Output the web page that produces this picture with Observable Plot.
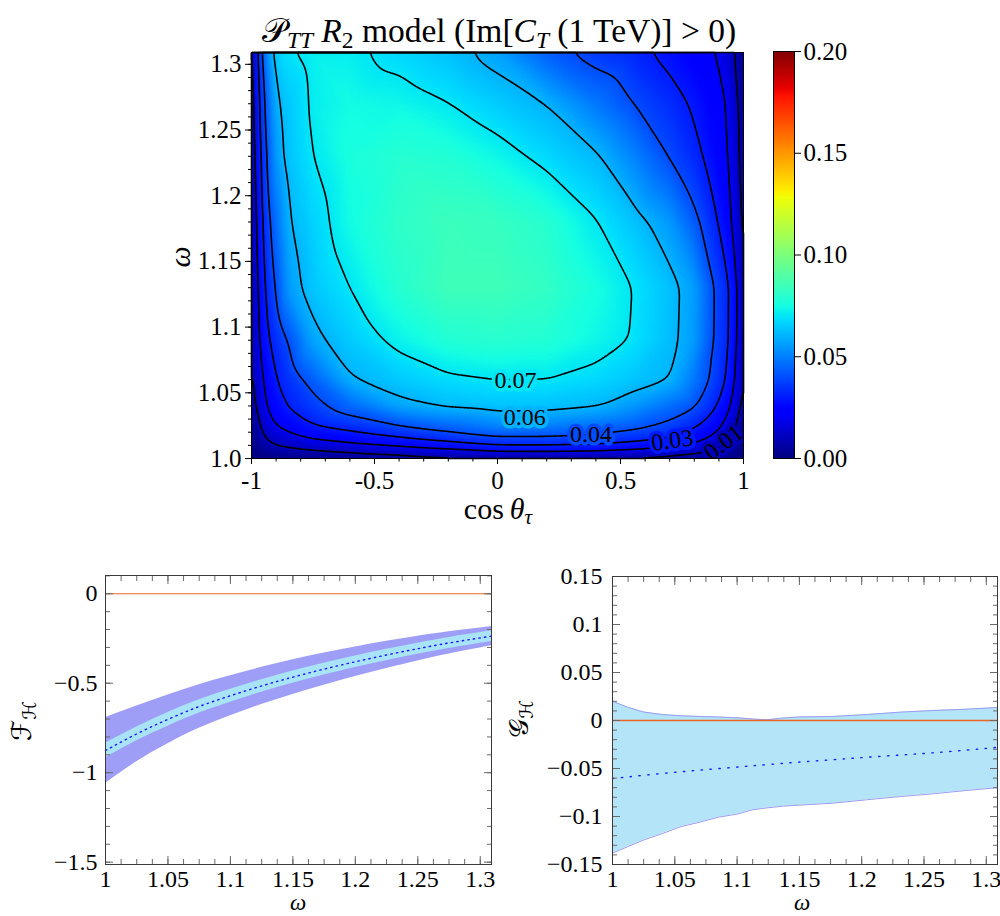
<!DOCTYPE html>
<html>
<head>
<meta charset="utf-8">
<script src="https://cdn.jsdelivr.net/npm/d3@7"></script>
<script src="https://cdn.jsdelivr.net/npm/@observablehq/plot@0.6"></script>
<style>
  html, body { margin: 0; padding: 0; background: #fff; }
  #root { position: relative; width: 1000px; height: 916px; overflow: hidden; font-family: "Liberation Serif", serif; color: #000; }
  #root svg { position: absolute; }
  .lbl { position: absolute; transform: translate(-50%, -50%); white-space: nowrap; font-family: "Liberation Serif", serif; line-height: 0.8; }
  .rot { transform: translate(-50%, -50%) rotate(-90deg); }
  .lbl sub { font-size: 70%; vertical-align: -0.28em; line-height: 0; }
  .scr { font-family: "DejaVu Serif", "DejaVu Sans", serif; font-style: normal; }
</style>
</head>
<body>
<div id="root">
  <div class="lbl" style="left:499px; top:31px; font-size:33.5px;"><span class="scr">𝒫</span><sub><i>TT</i></sub> <i>R</i><sub>2</sub> model (Im[<i>C</i><sub><i>T</i></sub> (1 TeV)] &gt; 0)</div>
  <div class="lbl" style="left:498px; top:509px; font-size:30px; line-height:0.5;">cos&#8201;<i>θ</i><sub><i>τ</i></sub></div>
  <div class="lbl rot" style="left:180px; top:257px; font-size:30px;"><i>ω</i></div>
  <div class="lbl" style="left:298px; top:903px; font-size:23px; line-height:normal;"><i>ω</i></div>
  <div class="lbl" style="left:802px; top:903px; font-size:23px; line-height:normal;"><i>ω</i></div>
  <div class="lbl rot" style="left:22px; top:721px; font-size:27px;"><span class="scr">ℱ</span><sub><span class="scr">ℋ</span></sub></div>
  <div class="lbl rot" style="left:519px; top:719px; font-size:27px;"><span class="scr">𝒢</span><sub><span class="scr">ℋ</span></sub></div>
</div>
<script>
// ---------------- Heat map data (cos theta_tau x omega grid) ----------------
const heatC = [-1, -0.99, -0.97, -0.94, -0.9, -0.85, -0.75, -0.6, -0.4, -0.2, 0, 0.2, 0.4, 0.55, 0.7, 0.8, 0.88, 0.94, 0.98, 1];
const heatW = [1.0, 1.003, 1.008, 1.015, 1.025, 1.04, 1.06, 1.09, 1.13, 1.18, 1.23, 1.27, 1.309];
const heatV_1000 = [0, 0, 0, 0, 0, 0, 0, 0, 0, 0, 0, 0, 0, 0, 0, 0, 0, 0, 0, 0];
const heatV_1003 = [0, 0.0003, 0.001, 0.002, 0.003, 0.0041, 0.0058, 0.0079, 0.0096, 0.0118, 0.0142, 0.0145, 0.0138, 0.0125, 0.011, 0.0103, 0.008, 0.0045, 0.0015, 0];
const heatV_1008 = [0, 0.0011, 0.0034, 0.0066, 0.0096, 0.0108, 0.0125, 0.015, 0.0185, 0.0231, 0.0286, 0.0288, 0.0275, 0.0245, 0.02, 0.0155, 0.0115, 0.0071, 0.0024, 0];
const heatV_1015 = [0, 0.0023, 0.007, 0.0109, 0.013, 0.0156, 0.0204, 0.0242, 0.0292, 0.0334, 0.0376, 0.0378, 0.0364, 0.0335, 0.03, 0.0238, 0.0179, 0.0116, 0.0044, 0];
const heatV_1025 = [0, 0.0031, 0.0094, 0.015, 0.0207, 0.0238, 0.03, 0.0341, 0.0397, 0.0455, 0.0514, 0.0505, 0.0468, 0.0432, 0.0376, 0.0318, 0.0244, 0.0164, 0.008, 0];
const heatV_1040 = [0, 0.0067, 0.0138, 0.0207, 0.0255, 0.0308, 0.0369, 0.0453, 0.0575, 0.062, 0.0635, 0.0632, 0.0612, 0.055, 0.0467, 0.0411, 0.032, 0.0225, 0.0124, 0];
const heatV_1060 = [0, 0.01, 0.0167, 0.0234, 0.0302, 0.0345, 0.0435, 0.0595, 0.0645, 0.0685, 0.0701, 0.07, 0.0675, 0.064, 0.0605, 0.0486, 0.0373, 0.0288, 0.0172, 0];
const heatV_1090 = [0, 0.012, 0.0217, 0.0283, 0.034, 0.04, 0.0575, 0.0648, 0.0725, 0.078, 0.0795, 0.078, 0.0735, 0.0695, 0.0624, 0.0555, 0.0391, 0.0313, 0.0214, 0];
const heatV_1130 = [0, 0.0129, 0.0237, 0.0324, 0.0397, 0.0555, 0.064, 0.07, 0.079, 0.085, 0.085, 0.082, 0.0755, 0.07, 0.0628, 0.056, 0.0395, 0.0314, 0.0221, 0];
const heatV_1180 = [0, 0.0145, 0.0264, 0.0356, 0.0466, 0.0602, 0.0664, 0.0745, 0.081, 0.084, 0.083, 0.079, 0.0705, 0.0636, 0.055, 0.043, 0.0321, 0.0237, 0.0145, 0];
const heatV_1230 = [0, 0.0167, 0.029, 0.0385, 0.056, 0.0635, 0.0701, 0.076, 0.079, 0.078, 0.0735, 0.0675, 0.0613, 0.0512, 0.0393, 0.0327, 0.0264, 0.0211, 0.0115, 0];
const heatV_1270 = [0, 0.0186, 0.0308, 0.0428, 0.0602, 0.0642, 0.0715, 0.0745, 0.0735, 0.0702, 0.0651, 0.06, 0.0486, 0.04, 0.0335, 0.0288, 0.0238, 0.02, 0.01, 0];
const heatV_1309 = [0, 0.0205, 0.0334, 0.052, 0.066, 0.0695, 0.072, 0.0715, 0.0674, 0.063, 0.0565, 0.0435, 0.036, 0.0324, 0.0275, 0.0238, 0.0208, 0.0146, 0.0077, 0];
const heatRows = [heatV_1000, heatV_1003, heatV_1008, heatV_1015, heatV_1025, heatV_1040, heatV_1060, heatV_1090, heatV_1130, heatV_1180, heatV_1230, heatV_1270, heatV_1309];

const contourLevels = [0.01, 0.02, 0.03, 0.04, 0.06, 0.07];
const contourLabelText = ["0.07", "0.06", "0.04", "0.03", "0.01"];
const contourLabelValue = [0.07, 0.06, 0.04, 0.03, 0.01];
const contourLabelC = [0.073, 0.111, 0.38, 0.71, 0.919];
const contourLabelW = [1.0592, 1.0314, 1.0182, 1.0137, 1.0122];
const contourLabelAngle = [0, 0, 0, -8, -38];

const heatXTicks = [-1, -0.5, 0, 0.5, 1];
const heatXTickLabels = ["-1", "-0.5", "0", "0.5", "1"];
const heatYTicks = [1.0, 1.05, 1.1, 1.15, 1.2, 1.25, 1.3];
const heatYTickLabels = ["1.0", "1.05", "1.1", "1.15", "1.2", "1.25", "1.3"];
const cbarTicks = [0, 0.05, 0.1, 0.15, 0.2];
const cbarTickLabels = ["0.00", "0.05", "0.10", "0.15", "0.20"];

// ---------------- F_H band data ----------------
const fOmega   = [1.0, 1.025, 1.05, 1.075, 1.1, 1.125, 1.15, 1.175, 1.2, 1.225, 1.25, 1.275, 1.309];
const fCentral = [-0.876, -0.783, -0.702, -0.630, -0.570, -0.515, -0.466, -0.421, -0.380, -0.342, -0.307, -0.275, -0.237];
const fDarkHi  = [-0.692, -0.627, -0.566, -0.508, -0.458, -0.411, -0.369, -0.331, -0.297, -0.266, -0.238, -0.213, -0.183];
const fDarkLo  = [-1.060, -0.939, -0.838, -0.752, -0.682, -0.619, -0.563, -0.511, -0.463, -0.418, -0.376, -0.337, -0.291];
const fLightHi = [-0.835, -0.744, -0.664, -0.593, -0.534, -0.480, -0.432, -0.388, -0.348, -0.310, -0.276, -0.244, -0.207];
const fLightLo = [-0.917, -0.822, -0.740, -0.667, -0.606, -0.550, -0.500, -0.454, -0.412, -0.374, -0.338, -0.306, -0.267];

// ---------------- G_H band data ----------------
const gOmega = [1.0, 1.012, 1.025, 1.04, 1.055, 1.07, 1.085, 1.1, 1.112, 1.124, 1.137, 1.15, 1.177, 1.204, 1.231, 1.257, 1.284, 1.309];
const gUpper = [0.0201, 0.0139, 0.0088, 0.0062, 0.0049, 0.0042, 0.0036, 0.0028, 0.0016, 0.0007, 0.0026, 0.0037, 0.0042, 0.0062, 0.0087, 0.0104, 0.0118, 0.0135];
const gLower = [-0.1382, -0.1315, -0.1245, -0.1178, -0.1105, -0.1059, -0.1007, -0.0975, -0.0931, -0.0910, -0.0892, -0.0882, -0.0861, -0.0826, -0.0792, -0.0764, -0.0729, -0.0700];
const gCentral = [-0.0604, -0.0588, -0.0571, -0.0552, -0.0534, -0.0517, -0.0501, -0.0485, -0.0472, -0.0460, -0.0446, -0.0433, -0.0408, -0.0383, -0.0360, -0.0337, -0.0308, -0.0280];

const wTicks = [1, 1.05, 1.1, 1.15, 1.2, 1.25, 1.3];
const wTickLabels = ["1", "1.05", "1.1", "1.15", "1.2", "1.25", "1.3"];
const fTicks = [0, -0.5, -1, -1.5];
const fTickLabels = ["0", "\u22120.5", "\u22121", "\u22121.5"];
const gTicks = [0.15, 0.1, 0.05, 0, -0.05, -0.1, -0.15];
const gTickLabels = ["0.15", "0.1", "0.05", "0", "\u22120.05", "\u22120.1", "\u22120.15"];

// ---------------- colour map (jet) ----------------
const jetStops = [0, 0.11, 0.125, 0.34, 0.35, 0.375, 0.64, 0.65, 0.66, 0.89, 0.91, 1];
const jetColors = ["#000080", "#0000ff", "#0000ff", "#00dbff", "#00e6f7", "#15ffe2", "#eeff08", "#f7f600", "#ffec00", "#ff1300", "#e80000", "#800000"];
const colorScale = {type: "linear", domain: jetStops.map(t => t * 0.2), range: jetColors, interpolate: "rgb", clamp: true};

// ---------------- build tables ----------------
const heatPts = heatW.flatMap((w, j) => heatC.map((c, i) => ({c, w, v: heatRows[j][i]})));
const contourLabels = contourLabelText.map((t, i) => ({t, lv: contourLabelValue[i], c: contourLabelC[i], w: contourLabelW[i], a: contourLabelAngle[i]}));
const fPts = fOmega.map((w, i) => ({w, mid: fCentral[i], dHi: fDarkHi[i], dLo: fDarkLo[i], lHi: fLightHi[i], lLo: fLightLo[i]}));
const gPts = gOmega.map((w, i) => ({w, mid: gCentral[i], hi: gUpper[i], lo: gLower[i]}));

const lab = (ticks, labels) => { const m = new Map(ticks.map((t, i) => [t, labels[i]])); return d => m.get(d); };
const range = (a, b, s) => d3.range(Math.round((b - a) / s) + 1).map(i => +(a + i * s).toFixed(6));

const topStyle = {fontFamily: "Liberation Serif, serif", fontSize: "25px", background: "transparent", overflow: "visible", color: "black"};
const lowStyle = {fontFamily: "Liberation Serif, serif", fontSize: "24px", background: "transparent", overflow: "visible", color: "black"};

// ---------------- heat map ----------------
const heat = Plot.plot({
  width: 760, height: 520,
  marginLeft: 251, marginRight: 17, marginTop: 52, marginBottom: 62,
  x: {domain: [-1, 1], axis: null},
  y: {domain: [1, 1.309], axis: null},
  color: colorScale,
  style: topStyle,
  marks: [
    Plot.raster(heatPts, {x: "c", y: "w", fill: "v", interpolate: "barycentric", x1: -1, x2: 1, y1: 1, y2: 1.309, pixelSize: 1, blur: 3}),
    Plot.contour(heatPts, {x: "c", y: "w", value: "v", interpolate: "barycentric", thresholds: contourLevels, x1: -1, x2: 1, y1: 1, y2: 1.309, pixelSize: 1, blur: 6, stroke: "black", strokeWidth: 1.6, fill: "none"}),
    Plot.text(contourLabels, {x: "c", y: "w", text: "t", rotate: "a", fill: "black", stroke: "lv", strokeWidth: 7, paintOrder: "stroke", fontSize: 24, clip: true}),
    Plot.frame({stroke: "black", strokeWidth: 1}),
    Plot.axisX(range(-1, 1, 0.1), {anchor: "bottom", tickSize: 3.5, fill: "none", label: null}),
    Plot.axisX(heatXTicks, {anchor: "bottom", tickSize: 6, tickPadding: 7, tickFormat: lab(heatXTicks, heatXTickLabels), label: null}),
    Plot.axisY(range(1, 1.3, 0.01), {anchor: "left", tickSize: 3, fill: "none", label: null}),
    Plot.axisY(heatYTicks, {anchor: "left", tickSize: 6, tickPadding: 4, tickFormat: lab(heatYTicks, heatYTickLabels), label: null})
  ]
});
heat.style.left = "0px"; heat.style.top = "0px";

// ---------------- colour bar ----------------
const cbar = Plot.plot({
  width: 120, height: 520,
  marginLeft: 13, marginRight: 86, marginTop: 51, marginBottom: 62,
  x: {domain: [0, 1], axis: null},
  y: {domain: [0, 0.2], axis: null},
  color: colorScale,
  style: topStyle,
  marks: [
    Plot.raster({x1: 0, x2: 1, y1: 0, y2: 0.2, fill: (x, y) => y, pixelSize: 1}),
    Plot.frame({stroke: "black", strokeWidth: 1}),
    Plot.axisY(cbarTicks, {anchor: "right", tickSize: 6, tickPadding: 3, tickFormat: lab(cbarTicks, cbarTickLabels), label: null})
  ]
});
cbar.style.left = "760px"; cbar.style.top = "0px";

// ---------------- frame-style axes for the lower panels ----------------
const tickGray = "#6a6a6a";
function boxAxes(xMinor, xMajor, xLabels, yMinor, yMajor, yLabels, yPad) {
  return [
    Plot.axisX(xMinor, {anchor: "bottom", tickSize: -5, stroke: tickGray, fill: "none", label: null}),
    Plot.axisX(xMinor, {anchor: "top", tickSize: -5, stroke: tickGray, fill: "none", label: null}),
    Plot.axisX(xMajor, {anchor: "bottom", tickSize: -8, stroke: tickGray, fill: "none", label: null}),
    Plot.axisX(xMajor, {anchor: "top", tickSize: -8, stroke: tickGray, fill: "none", label: null}),
    Plot.axisY(yMinor, {anchor: "left", tickSize: -5, stroke: tickGray, fill: "none", label: null}),
    Plot.axisY(yMinor, {anchor: "right", tickSize: -5, stroke: tickGray, fill: "none", label: null}),
    Plot.axisY(yMajor, {anchor: "left", tickSize: -8, stroke: tickGray, fill: "none", label: null}),
    Plot.axisY(yMajor, {anchor: "right", tickSize: -8, stroke: tickGray, fill: "none", label: null}),
    Plot.axisX(xMajor, {anchor: "bottom", tickSize: 0, tickPadding: 5, tickFormat: lab(xMajor, xLabels), fill: "black", label: null}),
    Plot.axisY(yMajor, {anchor: "left", tickSize: 0, tickPadding: yPad, tickFormat: lab(yMajor, yLabels), fill: "black", label: null}),
    Plot.frame({stroke: "#3a3a3a", strokeWidth: 1})
  ];
}

// ---------------- F_H panel ----------------
const fPlot = Plot.plot({
  width: 500, height: 376,
  marginLeft: 105, marginRight: 9, marginTop: 35, marginBottom: 52,
  x: {domain: [1, 1.309], axis: null},
  y: {domain: [-1.513, 0.102], axis: null},
  style: lowStyle,
  marks: [
    Plot.areaY(fPts, {x: "w", y1: "dLo", y2: "dHi", fill: "#9e9ef7", curve: "natural"}),
    Plot.areaY(fPts, {x: "w", y1: "lLo", y2: "lHi", fill: "#a9e3f7", curve: "natural"}),
    Plot.lineY(fPts, {x: "w", y: "mid", stroke: "#1a1aff", strokeWidth: 1.4, strokeDasharray: "1.4 4.2", curve: "natural"}),
    Plot.ruleY([0], {stroke: "#ee6422", strokeWidth: 1}),
    ...boxAxes(range(1, 1.3, 0.0125), wTicks, wTickLabels, range(-1.5, 0.1, 0.1), fTicks, fTickLabels, 8)
  ]
});
fPlot.style.left = "0px"; fPlot.style.top = "540px";

// ---------------- G_H panel ----------------
const gPlot = Plot.plot({
  width: 500, height: 376,
  marginLeft: 112, marginRight: 3, marginTop: 36, marginBottom: 52,
  x: {domain: [1, 1.309], axis: null},
  y: {domain: [-0.15, 0.15], axis: null},
  style: lowStyle,
  marks: [
    Plot.areaY(gPts, {x: "w", y1: "lo", y2: "hi", fill: "#b3e4f8"}),
    Plot.lineY(gPts, {x: "w", y: "hi", stroke: "#9c9cf2", strokeWidth: 1}),
    Plot.lineY(gPts, {x: "w", y: "lo", stroke: "#9c9cf2", strokeWidth: 1}),
    Plot.lineY(gPts, {x: "w", y: "mid", stroke: "#1a1aff", strokeWidth: 1.4, strokeDasharray: "1.4 7.5", curve: "natural"}),
    Plot.ruleY([0], {stroke: "#ee6422", strokeWidth: 1.6}),
    ...boxAxes(range(1, 1.3, 0.0125), wTicks, wTickLabels, range(-0.15, 0.15, 0.01), gTicks, gTickLabels, 10)
  ]
});
gPlot.style.left = "500px"; gPlot.style.top = "540px";

const root = document.getElementById("root");
root.append(heat, cbar, fPlot, gPlot);
</script>
</body>
</html>
